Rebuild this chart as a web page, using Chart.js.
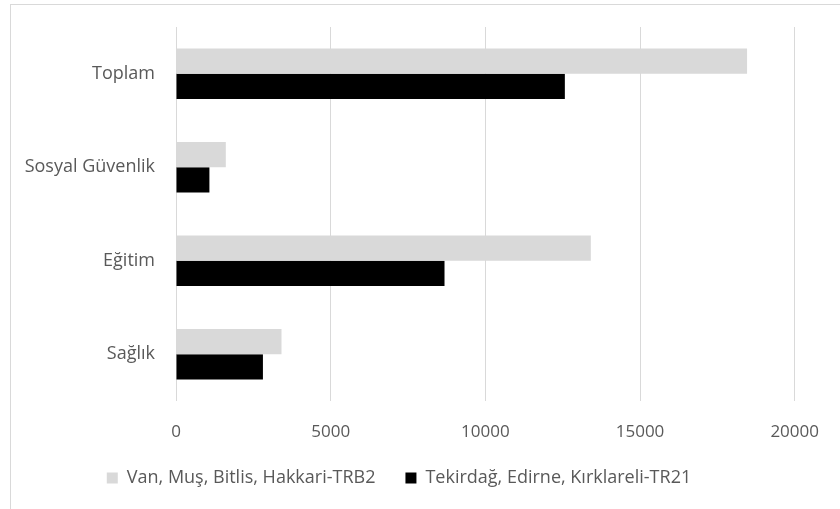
<!DOCTYPE html>
<html>
<head>
<meta charset="utf-8">
<script src="https://cdn.jsdelivr.net/npm/chart.js@4.4.1/dist/chart.umd.min.js"></script>
<style>
    html, body { margin: 0; padding: 0; background: #fff; }
    #wrap { position: relative; width: 840px; height: 509px; overflow: hidden; }
    #frame { position: absolute; left: 10px; top: 4px; width: 900px; height: 600px; border: 1px solid #d9d9d9; box-sizing: border-box; }
    canvas { position: absolute; left: 0; top: 0; }
</style>
</head>
<body>
<div id="wrap">
    <div id="frame"></div>
    <canvas id="chart" width="840" height="509"></canvas>
</div>
<script>
const categories = ['Toplam', 'Sosyal Güvenlik', 'Eğitim', 'Sağlık'];
const seriesNames = ['Van, Muş, Bitlis, Hakkari-TRB2', 'Tekirdağ, Edirne, Kırklareli-TR21'];
const trb2Values = [18460, 1610, 13410, 3410];
const tr21Values = [12570, 1080, 8680, 2810];
const xTicks = [0, 5000, 10000, 15000, 20000];

const textColor = '#595959';
const gridColor = '#d9d9d9';

Chart.defaults.font.family = '"Open Sans", sans-serif';
Chart.defaults.color = textColor;

const ctx = document.getElementById('chart').getContext('2d');
new Chart(ctx, {
    type: 'bar',
    data: {
        labels: categories,
        datasets: [
            { label: seriesNames[0], data: trb2Values, backgroundColor: '#d9d9d9', borderWidth: 0 },
            { label: seriesNames[1], data: tr21Values, backgroundColor: '#000000', borderWidth: 0 }
        ]
    },
    options: {
        indexAxis: 'y',
        responsive: false,
        animation: false,
        categoryPercentage: 0.54,
        barPercentage: 1.0,
        layout: { padding: { top: 27, right: 42, bottom: 12, left: 0 } },
        scales: {
            x: {
                min: 0, max: 20000,
                afterBuildTicks: (axis) => { axis.ticks = xTicks.map(v => ({ value: v })); },
                grid: { color: gridColor, drawTicks: false },
                border: { display: false },
                ticks: { padding: 21, font: { size: 17 }, color: textColor, callback: (v) => String(v) },
                afterFit: (axis) => { axis.height = 38; }
            },
            y: {
                // ticks are hidden; the tick length just pushes the labels off the axis
                grid: { display: false, drawTicks: true, tickLength: 21 },
                border: { display: false },
                ticks: { padding: 0, font: { size: 18 }, color: textColor },
                afterFit: (axis) => { axis.width = 176; }
            }
        },
        plugins: {
            legend: {
                position: 'bottom',
                labels: {
                    boxWidth: 11, boxHeight: 11, padding: 30,
                    font: { size: 18 }, color: textColor
                }
            },
            tooltip: { enabled: false }
        }
    }
});
</script>
</body>
</html>
